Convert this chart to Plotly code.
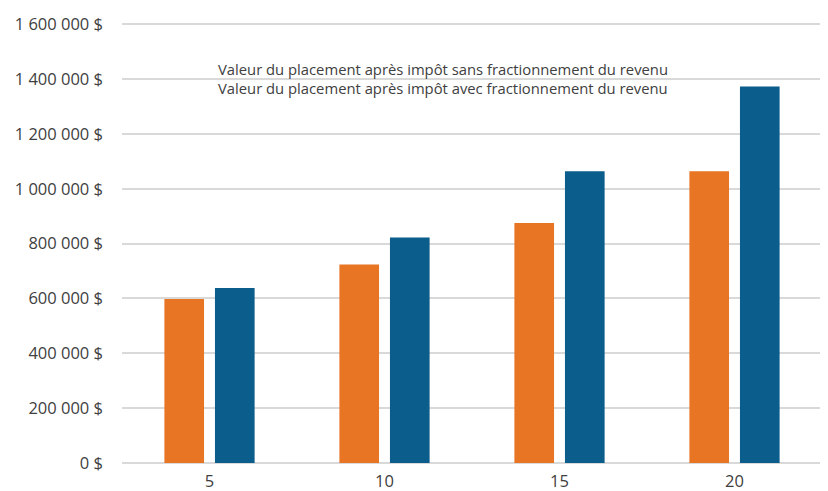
import plotly.graph_objects as go

years = ["5", "10", "15", "20"]
sans_fract = [598000, 724000, 875000, 1064000]
avec_fract = [638000, 822000, 1064000, 1373000]
series_names = [
    "Valeur du placement après impôt sans fractionnement du revenu",
    "Valeur du placement après impôt avec fractionnement du revenu",
]
y_tickvals = [0, 200000, 400000, 600000, 800000, 1000000, 1200000, 1400000, 1600000]
y_ticktext = ["0 $", "200 000 $", "400 000 $", "600 000 $", "800 000 $",
              "1 000 000 $", "1 200 000 $", "1 400 000 $", "1 600 000 $"]

ORANGE = "#E87524"
BLUE = "#0B5D8C"
GRID = "#D9D9D9"
TEXT = "#404040"
FONT = "Open Sans"

fig = go.Figure()
fig.add_trace(go.Bar(x=years, y=sans_fract, name=series_names[0],
                     marker=dict(color=ORANGE, line=dict(width=0)), showlegend=False))
fig.add_trace(go.Bar(x=years, y=avec_fract, name=series_names[1],
                     marker=dict(color=BLUE, line=dict(width=0)), showlegend=False))

# page body has an 8px margin: figure is drawn at (8, 8) in the window
OFF = 8
W, H = 828 - OFF, 491 - OFF
ml, mr, mt, mb = 122 - OFF, 0, 12, 28
pw = W - ml - mr
ph = H - mt - mb
y0_px, ytop_px = H - mb, 24.3 - OFF
ymax = 1600000 * (y0_px - mt) / (y0_px - ytop_px)

fig.update_layout(
    width=W, height=H,
    margin=dict(l=ml, r=mr, t=mt, b=mb, autoexpand=False),
    paper_bgcolor="white", plot_bgcolor="white",
    barmode="group", bargap=0.422, bargroupgap=0.216,
    font=dict(family=FONT, size=16.5, color=TEXT),
    xaxis=dict(type="category", range=[-0.5, 3.5 + 6 / 175], showgrid=False,
               showline=False, zeroline=False, ticks="", automargin=False,
               ticklabelstandoff=6,
               tickfont=dict(family=FONT, size=16.5, color=TEXT)),
    yaxis=dict(range=[0, ymax], tickvals=y_tickvals, ticktext=y_ticktext,
               showgrid=True, gridcolor=GRID, gridwidth=1.5,
               zeroline=True, zerolinecolor=GRID, zerolinewidth=1.5,
               showline=False, ticks="", ticklabelstandoff=18, automargin=False,
               tickfont=dict(family=FONT, size=16.5, color=TEXT)),
    showlegend=False,
)

# white box behind legend text (covers the gridline as in the reference)
fig.add_shape(type="rect", xref="paper", yref="paper",
              x0=(150 - OFF - ml) / pw, x1=(697 - OFF - ml) / pw,
              y0=(H - mb - (96 - OFF)) / ph, y1=(H - mb - (60 - OFF)) / ph,
              fillcolor="white", line=dict(width=0), layer="between")

fig.add_annotation(
    xref="paper", yref="paper",
    x=(442.5 - OFF - ml) / pw, y=(H - mb - (78 - OFF)) / ph,
    xanchor="center", yanchor="middle", align="left",
    text=series_names[0] + "<br>" + series_names[1],
    showarrow=False,
    font=dict(family=FONT, size=14.8, color=TEXT),
)

fig.write_html("out.html")
